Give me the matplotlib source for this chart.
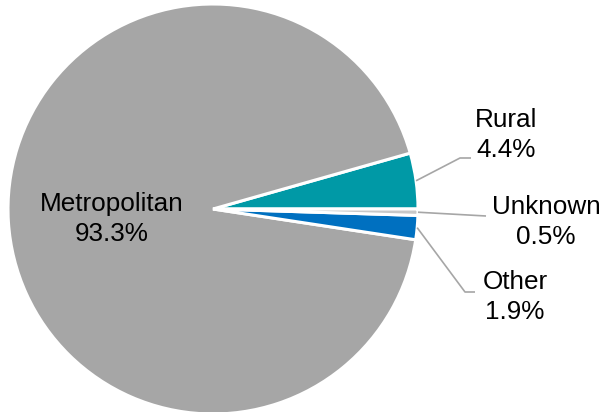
import matplotlib
matplotlib.use("Agg")
import matplotlib.pyplot as plt
import numpy as np

categories = ["Rural", "Metropolitan", "Other", "Unknown"]
shares = [4.4, 93.3, 1.9, 0.5]
colors = ["#0099a6", "#a6a6a6", "#0070c0", "#c8c8c8"]

H = 412
fig = plt.figure(figsize=(6.03, 4.12), dpi=100)
ax = fig.add_axes([0, 0, 1, 1])

cx, cy, R = 213, H - 209, 205
wedges, _ = ax.pie(shares, colors=colors, startangle=0, counterclock=True,
                   center=(cx, cy), radius=R, frame=True,
                   wedgeprops=dict(edgecolor="white", linewidth=2.2))
ax.set_xlim(0, 603)
ax.set_ylim(0, H)
ax.axis("off")

font = dict(family=["Liberation Sans", "DejaVu Sans"], fontsize=18.8, color="black")

# label positions (pixel coordinates, y from top) and elbows
labels = {
    "Metropolitan": dict(text=(112, 219), line=None),
    "Rural": dict(text=(506, 135), line=[(460, 158), (471, 158)]),
    "Unknown": dict(text=(546, 222), line=[(486, 216)]),
    "Other": dict(text=(515, 297), line=[(465, 292), (475, 292)]),
}

for w, cat, val in zip(wedges, categories, shares):
    info = labels[cat]
    tx, ty = info["text"]
    ax.text(tx, H - ty, f"{cat}\n{val}%", ha="center", va="center",
            linespacing=1.3, **font)
    if info["line"]:
        mid = np.deg2rad((w.theta1 + w.theta2) / 2)
        x0 = cx + R * np.cos(mid)
        y0 = cy + R * np.sin(mid)
        xs = [x0] + [p[0] for p in info["line"]]
        ys = [y0] + [H - p[1] for p in info["line"]]
        ax.plot(xs, ys, color="#a6a6a6", linewidth=1.2, solid_capstyle="butt")

fig.savefig("out.png", dpi=100)
